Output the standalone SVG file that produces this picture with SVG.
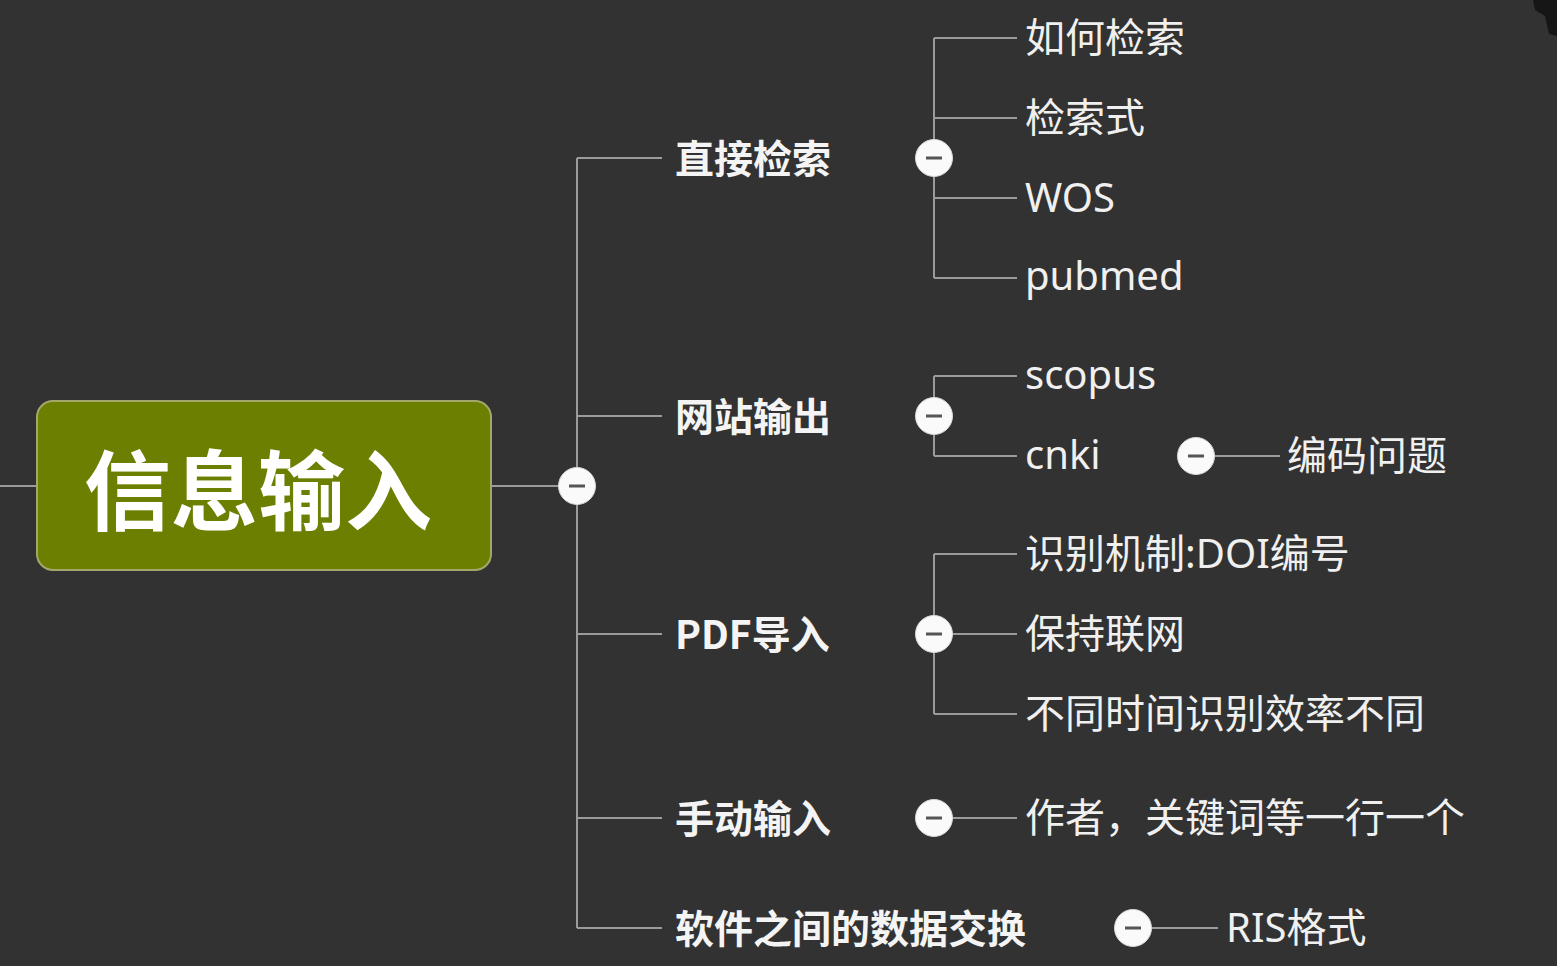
<svg xmlns="http://www.w3.org/2000/svg" width="1557" height="966" viewBox="0 0 1557 966">
<style>
.ln{stroke:#9b9b9b;stroke-width:2;fill:none}
.l1{font-family:"Noto Sans CJK SC","Noto Sans",sans-serif;font-weight:bold;font-size:39px;fill:#f4f4f4;dominant-baseline:central}
.l2{font-family:"Noto Sans","Noto Sans CJK SC",sans-serif;font-size:40px;fill:#f0f0f0;dominant-baseline:central}
</style>
<defs>
<g id="col"><circle cx="0" cy="0" r="18.5" fill="#fafafa" stroke="#d8d8d8" stroke-width="1"/><line x1="-8" y1="0" x2="8" y2="0" stroke="#555" stroke-width="3"/></g>
</defs>
<rect width="1557" height="966" fill="#323232"/>
<path d="M1533 0 L1557 0 L1557 36 L1549 34 L1545 16 L1535 10 Z" fill="#161616"/>
<g id="connectors">
<path class="ln" d="M0 486 H37 M491 486 H577 M577 158 V928 M577 158 H662 M577 416 H662 M577 634 H662 M577 818 H662 M577 928 H662"/>
<path class="ln" d="M934 38 V278 M934 38 H1017 M934 118 H1017 M934 198 H1017 M934 278 H1017"/>
<path class="ln" d="M934 376 V456 M934 376 H1017 M934 456 H1017 M1196 456 H1280"/>
<path class="ln" d="M934 554 V714 M934 554 H1017 M934 634 H1017 M934 714 H1017"/>
<path class="ln" d="M934 818 H1017 M1133 928 H1218"/>
</g>
<g id="root">
<rect x="37" y="401" width="454" height="169" rx="16" fill="#6d7f00" stroke="#a3a86a" stroke-width="2"/>
<text x="258" y="486" text-anchor="middle" style="font-family:'Noto Sans CJK SC',sans-serif;font-weight:bold;font-size:87px;fill:#ffffff;dominant-baseline:central">信息输入</text>
</g>
<g id="collapse">
<use href="#col" x="577" y="486"/>
<use href="#col" x="934" y="158"/>
<use href="#col" x="934" y="416"/>
<use href="#col" x="934" y="634"/>
<use href="#col" x="934" y="818"/>
<use href="#col" x="1133" y="928"/>
<use href="#col" x="1196" y="456"/>
</g>
<g id="n-zhijie"><text class="l1" x="675" y="156">直接检索</text></g>
<g id="n-wangzhan"><text class="l1" x="675" y="414">网站输出</text></g>
<g id="n-pdf"><text class="l1" x="675" y="632">PDF导入</text></g>
<g id="n-shoudong"><text class="l1" x="675" y="816">手动输入</text></g>
<g id="n-ruanjian"><text class="l1" x="675" y="926">软件之间的数据交换</text></g>
<g id="n-ruhe"><text class="l2" x="1025" y="36">如何检索</text></g>
<g id="n-jiansuoshi"><text class="l2" x="1025" y="116">检索式</text></g>
<g id="n-wos"><text class="l2" x="1025" y="196">WOS</text></g>
<g id="n-pubmed"><text class="l2" x="1025" y="274">pubmed</text></g>
<g id="n-scopus"><text class="l2" x="1025" y="373">scopus</text></g>
<g id="n-cnki"><text class="l2" x="1025" y="453">cnki</text></g>
<g id="n-bianma"><text class="l2" x="1287" y="454">编码问题</text></g>
<g id="n-shibie"><text class="l2" x="1025" y="552">识别机制:DOI编号</text></g>
<g id="n-baochi"><text class="l2" x="1025" y="632">保持联网</text></g>
<g id="n-butong"><text class="l2" x="1025" y="712">不同时间识别效率不同</text></g>
<g id="n-zuozhe"><text class="l2" x="1025" y="816">作者，关键词等一行一个</text></g>
<g id="n-ris"><text class="l2" x="1226" y="926">RIS格式</text></g>
</svg>
